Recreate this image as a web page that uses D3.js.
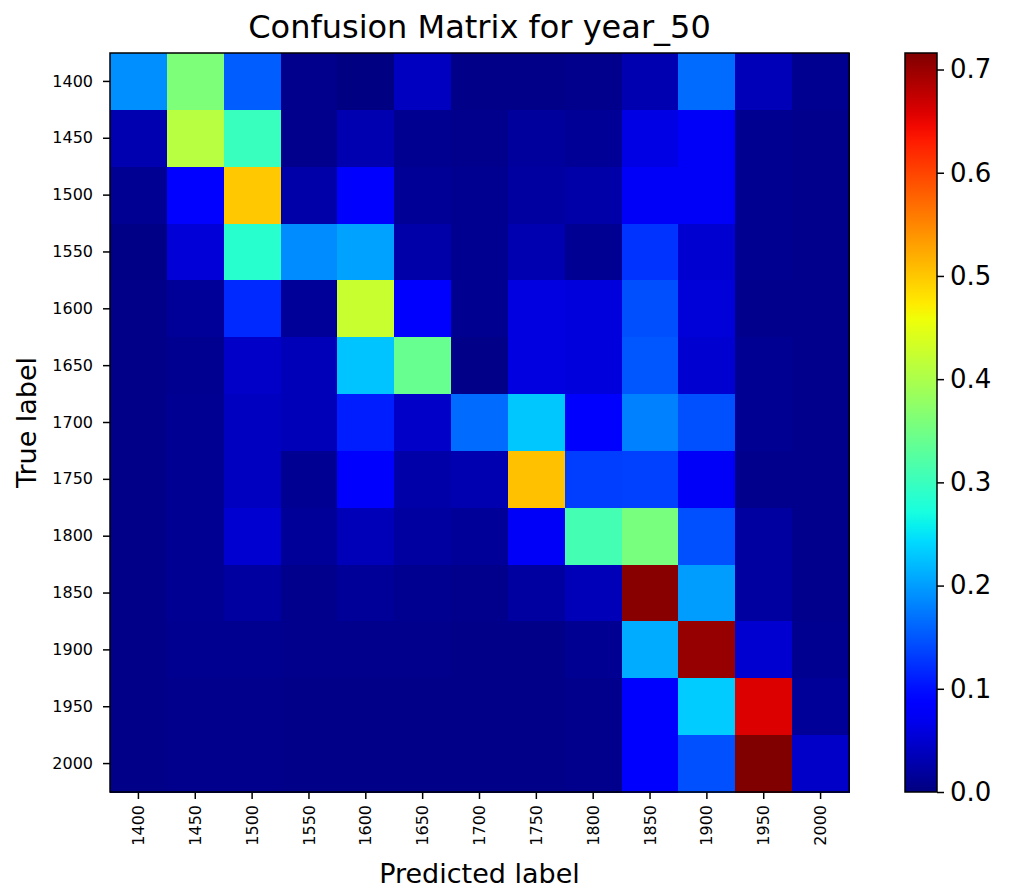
<!DOCTYPE html>
<html>
<head>
<meta charset="utf-8">
<script src="https://cdn.jsdelivr.net/npm/d3@7/dist/d3.min.js"></script>
<style>
  body { margin: 0; background: #fff; }
  text { font-family: "DejaVu Sans", sans-serif; fill: #000; }
</style>
</head>
<body>
<div id="chart"></div>
<script>
// Class labels (true and predicted use the same years)
const years = ['1400', '1450', '1500', '1550', '1600', '1650', '1700',
               '1750', '1800', '1850', '1900', '1950', '2000'];

// Normalised confusion matrix, one row per true label
const row1400 = [0.19, 0.36, 0.155, 0.008, 0.002, 0.04, 0.006, 0.005, 0.008, 0.03, 0.165, 0.035, 0.01];
const row1450 = [0.03, 0.41, 0.30, 0.008, 0.03, 0.01, 0.008, 0.018, 0.014, 0.063, 0.075, 0.01, 0.008];
const row1500 = [0.012, 0.09, 0.50, 0.025, 0.078, 0.014, 0.01, 0.02, 0.025, 0.075, 0.075, 0.01, 0.008];
const row1550 = [0.004, 0.054, 0.285, 0.188, 0.203, 0.025, 0.01, 0.03, 0.012, 0.125, 0.05, 0.01, 0.008];
const row1600 = [0.006, 0.015, 0.118, 0.015, 0.425, 0.08, 0.01, 0.06, 0.058, 0.145, 0.055, 0.008, 0.008];
const row1650 = [0.006, 0.01, 0.045, 0.035, 0.227, 0.34, 0.005, 0.06, 0.057, 0.15, 0.05, 0.012, 0.008];
const row1700 = [0.005, 0.012, 0.04, 0.035, 0.11, 0.045, 0.165, 0.23, 0.08, 0.18, 0.146, 0.012, 0.008];
const row1750 = [0.005, 0.012, 0.04, 0.012, 0.08, 0.025, 0.03, 0.505, 0.133, 0.135, 0.075, 0.008, 0.008];
const row1800 = [0.005, 0.012, 0.05, 0.015, 0.035, 0.02, 0.015, 0.075, 0.31, 0.356, 0.146, 0.02, 0.008];
const row1850 = [0.005, 0.012, 0.02, 0.008, 0.015, 0.01, 0.008, 0.02, 0.035, 0.711, 0.2, 0.02, 0.008];
const row1900 = [0.006, 0.01, 0.01, 0.008, 0.008, 0.008, 0.006, 0.006, 0.012, 0.21, 0.702, 0.05, 0.01];
const row1950 = [0.006, 0.008, 0.008, 0.006, 0.006, 0.006, 0.006, 0.006, 0.008, 0.08, 0.233, 0.659, 0.015];
const row2000 = [0.006, 0.008, 0.008, 0.006, 0.006, 0.006, 0.006, 0.006, 0.008, 0.08, 0.146, 0.716, 0.045];

const matrix = [row1400, row1450, row1500, row1550, row1600, row1650, row1700,
                row1750, row1800, row1850, row1900, row1950, row2000];

// Colorbar ticks
const cbTicks = [0.0, 0.1, 0.2, 0.3, 0.4, 0.5, 0.6, 0.7];

// Layout
const width = 1010;
const height = 890;
const plotLeft = 110, plotTop = 53, size = 739;
const cbX = 905, cbW = 32;

// matplotlib "jet" colormap, channel by channel
const jetR = d3.scaleLinear().domain([0, 0.35, 0.66, 0.89, 1]).range([0, 0, 1, 1, 0.5]).clamp(true);
const jetG = d3.scaleLinear().domain([0, 0.125, 0.375, 0.64, 0.91, 1]).range([0, 0, 1, 1, 0, 0]).clamp(true);
const jetB = d3.scaleLinear().domain([0, 0.11, 0.34, 0.65, 1]).range([0.5, 1, 1, 0, 0]).clamp(true);
const jet = (t) => d3.rgb(255 * jetR(t), 255 * jetG(t), 255 * jetB(t)).formatHex();

const vmax = d3.max(matrix, (r) => d3.max(r));
const color = d3.scaleSequential(jet).domain([0, vmax]);

const svg = d3.select('#chart')
  .append('svg')
  .attr('width', width)
  .attr('height', height);

const x = d3.scaleBand().domain(years).range([plotLeft, plotLeft + size]);
const y = d3.scaleBand().domain(years).range([plotTop, plotTop + size]);

// Cells
const cells = [];
matrix.forEach((row, i) => {
  row.forEach((v, j) => cells.push({ t: years[i], p: years[j], v: v }));
});

svg.append('g')
  .selectAll('rect')
  .data(cells)
  .enter()
  .append('rect')
  .attr('x', (d) => x(d.p))
  .attr('y', (d) => y(d.t))
  .attr('width', x.bandwidth() + 0.5)
  .attr('height', y.bandwidth() + 0.5)
  .attr('fill', (d) => color(d.v))
  .attr('shape-rendering', 'crispEdges');

// Frame
svg.append('rect')
  .attr('x', plotLeft)
  .attr('y', plotTop)
  .attr('width', size)
  .attr('height', size)
  .attr('fill', 'none')
  .attr('stroke', '#000')
  .attr('stroke-width', 1.5);

// Axes
const xAxis = svg.append('g')
  .attr('transform', `translate(0, ${plotTop + size})`)
  .call(d3.axisBottom(x).tickSize(7).tickPadding(6));
xAxis.select('.domain').remove();
xAxis.selectAll('line').attr('stroke-width', 1.5);
xAxis.selectAll('text')
  .attr('transform', 'rotate(-90)')
  .attr('x', -13)
  .attr('y', 0)
  .attr('dy', '0.35em')
  .style('text-anchor', 'end')
  .style('font-size', '16px');

const yAxis = svg.append('g')
  .attr('transform', `translate(${plotLeft}, 0)`)
  .call(d3.axisLeft(y).tickSize(7).tickPadding(10));
yAxis.select('.domain').remove();
yAxis.selectAll('line').attr('stroke-width', 1.5);
yAxis.selectAll('text').style('font-size', '16px');

svg.selectAll('.tick text').attr('font-family', '"DejaVu Sans", sans-serif').attr('fill', '#000');

// Title and axis labels
svg.append('text')
  .text('Confusion Matrix for year_50')
  .attr('x', plotLeft + size / 2)
  .attr('y', 38)
  .attr('text-anchor', 'middle')
  .style('font-size', '32px');

svg.append('text')
  .text('Predicted label')
  .attr('x', plotLeft + size / 2)
  .attr('y', 883)
  .attr('text-anchor', 'middle')
  .style('font-size', '27px');

svg.append('text')
  .text('True label')
  .attr('transform', 'rotate(-90)')
  .attr('x', -(plotTop + size / 2))
  .attr('y', 36)
  .attr('text-anchor', 'middle')
  .style('font-size', '27px');

// Colorbar
const defs = svg.append('defs');
const grad = defs.append('linearGradient')
  .attr('id', 'cbgrad')
  .attr('x1', 0).attr('y1', 1)
  .attr('x2', 0).attr('y2', 0);
d3.range(0, 1.0001, 0.02).forEach((t) => {
  grad.append('stop')
    .attr('offset', t)
    .attr('stop-color', jet(t));
});

svg.append('rect')
  .attr('x', cbX)
  .attr('y', plotTop)
  .attr('width', cbW)
  .attr('height', size)
  .attr('fill', 'url(#cbgrad)')
  .attr('stroke', '#000')
  .attr('stroke-width', 1.5);

const cbScale = d3.scaleLinear().domain([0, vmax]).range([plotTop + size, plotTop]);
const cbAxis = svg.append('g')
  .attr('transform', `translate(${cbX + cbW}, 0)`)
  .call(d3.axisRight(cbScale).tickValues(cbTicks).tickFormat(d3.format('.1f')).tickSize(7).tickPadding(6));
cbAxis.select('.domain').remove();
cbAxis.selectAll('line').attr('stroke-width', 1.5);
cbAxis.selectAll('text')
  .style('font-size', '26px')
  .attr('font-family', '"DejaVu Sans", sans-serif')
  .attr('fill', '#000');
</script>
</body>
</html>
